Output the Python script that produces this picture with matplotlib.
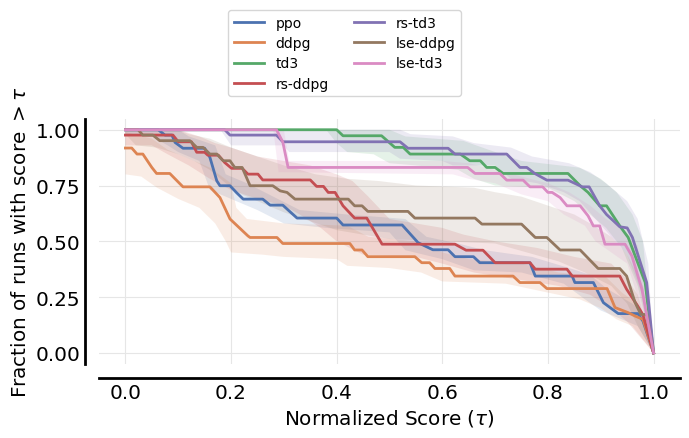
import numpy as np
import matplotlib
matplotlib.use('Agg')
import matplotlib.pyplot as plt
import seaborn as sns

# algorithms, in legend order
algos = ['ppo', 'ddpg', 'td3', 'rs-ddpg', 'rs-td3', 'lse-ddpg', 'lse-td3']

# performance profile curves (tau vertices, fraction)
ppo_t = [0, 0.062, 0.075, 0.088, 0.094, 0.109, 0.15, 0.16, 0.173, 0.179, 0.198, 0.21, 0.223, 0.26, 0.274,
         0.298, 0.31, 0.325, 0.40, 0.412, 0.524, 0.554, 0.582, 0.611, 0.624, 0.659, 0.671, 0.766, 0.776,
         0.846, 0.851, 0.886, 0.905, 0.933, 0.97, 0.98, 1.0]
ppo_v = [1.0, 1.0, 0.976, 0.976, 0.943, 0.917, 0.917, 0.876, 0.771, 0.749, 0.749, 0.719, 0.689, 0.689, 0.662,
         0.662, 0.636, 0.604, 0.604, 0.573, 0.573, 0.494, 0.462, 0.462, 0.431, 0.431, 0.404, 0.404, 0.344,
         0.344, 0.315, 0.315, 0.225, 0.176, 0.176, 0.142, 0.0]

ddpg_t = [0, 0.012, 0.022, 0.033, 0.05, 0.059, 0.084, 0.109, 0.16, 0.179, 0.198, 0.232, 0.236, 0.287, 0.298,
          0.425, 0.434, 0.448, 0.459, 0.548, 0.561, 0.576, 0.586, 0.614, 0.624, 0.734, 0.747, 0.785, 0.798,
          0.912, 0.927, 0.952, 0.965, 0.98, 1.0]
ddpg_v = [0.918, 0.918, 0.891, 0.891, 0.831, 0.804, 0.804, 0.744, 0.744, 0.696, 0.6, 0.524, 0.517, 0.517, 0.49,
          0.49, 0.461, 0.461, 0.431, 0.431, 0.404, 0.404, 0.378, 0.378, 0.344, 0.344, 0.315, 0.315, 0.288,
          0.288, 0.203, 0.18, 0.165, 0.15, 0.0]

td3_t = [0, 0.40, 0.412, 0.485, 0.51, 0.526, 0.539, 0.634, 0.652, 0.672, 0.684, 0.70, 0.715, 0.838, 0.861,
         0.876, 0.898, 0.911, 0.936, 0.952, 0.984, 1.0]
td3_v = [1.0, 1.0, 0.973, 0.973, 0.921, 0.921, 0.891, 0.891, 0.861, 0.861, 0.831, 0.831, 0.804, 0.804, 0.749,
         0.719, 0.659, 0.659, 0.569, 0.517, 0.316, 0.0]

rsddpg_t = [0, 0.09, 0.1, 0.125, 0.135, 0.15, 0.156, 0.176, 0.188, 0.201, 0.221, 0.232, 0.251, 0.26, 0.35,
            0.362, 0.375, 0.384, 0.397, 0.412, 0.434, 0.457, 0.486, 0.624, 0.645, 0.677, 0.70, 0.766, 0.776,
            0.836, 0.846, 0.936, 0.949, 0.97, 0.98, 1.0]
rsddpg_v = [0.976, 0.976, 0.946, 0.946, 0.899, 0.899, 0.886, 0.886, 0.853, 0.827, 0.827, 0.801, 0.801, 0.775,
            0.775, 0.746, 0.746, 0.719, 0.719, 0.659, 0.604, 0.604, 0.487, 0.487, 0.46, 0.46, 0.404, 0.404,
            0.375, 0.375, 0.344, 0.344, 0.285, 0.21, 0.17, 0.0]

rstd3_t = [0, 0.188, 0.198, 0.286, 0.298, 0.52, 0.535, 0.611, 0.624, 0.722, 0.747, 0.76, 0.775, 0.798, 0.838,
           0.865, 0.878, 0.898, 0.911, 0.936, 0.95, 0.96, 0.987, 1.0]
rstd3_v = [1.0, 1.0, 0.976, 0.976, 0.946, 0.946, 0.917, 0.917, 0.891, 0.891, 0.831, 0.831, 0.804, 0.774, 0.774,
           0.744, 0.744, 0.659, 0.62, 0.565, 0.56, 0.517, 0.315, 0.0]

lseddpg_t = [0, 0.024, 0.033, 0.052, 0.065, 0.122, 0.135, 0.147, 0.16, 0.173, 0.185, 0.198, 0.207, 0.221,
             0.236, 0.279, 0.293, 0.306, 0.321, 0.422, 0.434, 0.448, 0.459, 0.535, 0.548, 0.662, 0.675, 0.75,
             0.776, 0.798, 0.823, 0.861, 0.895, 0.936, 0.949, 0.965, 0.976, 0.987, 1.0]
lseddpg_v = [1.0, 1.0, 0.976, 0.976, 0.951, 0.951, 0.921, 0.921, 0.891, 0.891, 0.861, 0.861, 0.831, 0.831,
             0.749, 0.749, 0.726, 0.719, 0.689, 0.689, 0.659, 0.659, 0.634, 0.634, 0.604, 0.604, 0.577, 0.577,
             0.517, 0.517, 0.461, 0.461, 0.378, 0.378, 0.344, 0.225, 0.172, 0.172, 0.0]

lsetd3_t = [0, 0.286, 0.298, 0.308, 0.648, 0.662, 0.709, 0.722, 0.753, 0.766, 0.79, 0.80, 0.808, 0.823, 0.836,
            0.861, 0.876, 0.886, 0.898, 0.908, 0.946, 0.959, 0.978, 1.0]
lsetd3_v = [1.0, 1.0, 0.945, 0.831, 0.831, 0.804, 0.804, 0.774, 0.774, 0.744, 0.744, 0.719, 0.719, 0.696,
            0.659, 0.659, 0.614, 0.569, 0.569, 0.487, 0.487, 0.434, 0.285, 0.0]

# confidence bands: upper edge and lower edge (tau, fraction)
ppo_hi = [(0, 1.0), (0.1, 1.0), (0.12, 0.97), (0.17, 0.93), (0.19, 0.8), (0.23, 0.76), (0.28, 0.70), (0.33, 0.64),
          (0.42, 0.62), (0.53, 0.60), (0.57, 0.52), (0.63, 0.49), (0.68, 0.46), (0.77, 0.43), (0.84, 0.38),
          (0.88, 0.35), (0.91, 0.29), (0.96, 0.22), (0.985, 0.17), (1.0, 0.0)]
ppo_lo = [(0, 0.98), (0.05, 0.97), (0.08, 0.93), (0.1, 0.9), (0.14, 0.86), (0.16, 0.73), (0.2, 0.69), (0.25, 0.64),
          (0.3, 0.58), (0.38, 0.56), (0.5, 0.54), (0.53, 0.46), (0.6, 0.42), (0.66, 0.37), (0.75, 0.36),
          (0.83, 0.31), (0.87, 0.24), (0.9, 0.19), (0.94, 0.15), (0.97, 0.12), (1.0, 0.0)]

ddpg_hi = [(0, 0.99), (0.05, 0.96), (0.08, 0.91), (0.12, 0.87), (0.16, 0.83), (0.2, 0.76), (0.21, 0.65),
           (0.23, 0.60), (0.3, 0.58), (0.42, 0.57), (0.46, 0.52), (0.55, 0.50), (0.6, 0.45), (0.65, 0.42),
           (0.75, 0.40), (0.82, 0.36), (0.91, 0.34), (0.94, 0.27), (0.97, 0.22), (1.0, 0.0)]
ddpg_lo = [(0, 0.80), (0.03, 0.79), (0.06, 0.74), (0.1, 0.69), (0.14, 0.65), (0.17, 0.58), (0.19, 0.50),
           (0.2, 0.45), (0.26, 0.44), (0.3, 0.43), (0.4, 0.42), (0.42, 0.39), (0.5, 0.38), (0.56, 0.36),
           (0.6, 0.32), (0.72, 0.31), (0.8, 0.27), (0.86, 0.24), (0.9, 0.2), (0.93, 0.15), (0.96, 0.12), (1.0, 0.0)]

td3_hi = [(0, 1.0), (0.5, 1.0), (0.53, 0.97), (0.64, 0.95), (0.7, 0.90), (0.75, 0.86), (0.86, 0.83), (0.9, 0.78),
          (0.93, 0.72), (0.96, 0.62), (0.98, 0.5), (1.0, 0.0)]
td3_lo = [(0, 1.0), (0.38, 1.0), (0.4, 0.94), (0.42, 0.90), (0.47, 0.89), (0.5, 0.85), (0.55, 0.84), (0.63, 0.82),
          (0.66, 0.78), (0.7, 0.75), (0.8, 0.74), (0.85, 0.68), (0.88, 0.62), (0.91, 0.56), (0.94, 0.47),
          (0.97, 0.30), (1.0, 0.0)]

rsddpg_hi = [(0, 1.0), (0.1, 1.0), (0.14, 0.97), (0.17, 0.94), (0.2, 0.92), (0.25, 0.88), (0.3, 0.86), (0.35, 0.84),
             (0.4, 0.8), (0.43, 0.77), (0.46, 0.70), (0.5, 0.60), (0.55, 0.58), (0.6, 0.56), (0.64, 0.53),
             (0.7, 0.50), (0.78, 0.47), (0.85, 0.43), (0.92, 0.40), (0.95, 0.33), (0.97, 0.26), (1.0, 0.0)]
rsddpg_lo = [(0, 0.93), (0.05, 0.93), (0.08, 0.89), (0.12, 0.84), (0.16, 0.78), (0.2, 0.73), (0.25, 0.69),
             (0.3, 0.66), (0.33, 0.62), (0.37, 0.56), (0.4, 0.50), (0.45, 0.44), (0.55, 0.43), (0.6, 0.40),
             (0.66, 0.36), (0.74, 0.33), (0.82, 0.30), (0.88, 0.26), (0.92, 0.2), (0.95, 0.14), (1.0, 0.0)]

rstd3_hi = [(0, 1.0), (0.52, 1.0), (0.54, 0.98), (0.62, 0.97), (0.66, 0.94), (0.73, 0.92), (0.77, 0.88),
            (0.84, 0.85), (0.88, 0.81), (0.91, 0.76), (0.95, 0.68), (0.97, 0.6), (0.99, 0.4), (1.0, 0.0)]
rstd3_lo = [(0, 1.0), (0.18, 1.0), (0.2, 0.93), (0.3, 0.93), (0.31, 0.90), (0.5, 0.90), (0.52, 0.87), (0.6, 0.86),
            (0.62, 0.84), (0.7, 0.84), (0.73, 0.78), (0.78, 0.76), (0.83, 0.72), (0.86, 0.68), (0.89, 0.60),
            (0.92, 0.52), (0.95, 0.44), (0.98, 0.25), (1.0, 0.0)]

lseddpg_hi = [(0, 1.0), (0.1, 1.0), (0.12, 0.98), (0.16, 0.96), (0.2, 0.92), (0.25, 0.88), (0.3, 0.84),
              (0.36, 0.80), (0.42, 0.78), (0.48, 0.77), (0.55, 0.75), (0.66, 0.74), (0.7, 0.72), (0.75, 0.70),
              (0.8, 0.66), (0.85, 0.62), (0.88, 0.58), (0.92, 0.52), (0.95, 0.44), (0.98, 0.3), (1.0, 0.0)]
lseddpg_lo = [(0, 0.98), (0.02, 0.93), (0.06, 0.92), (0.1, 0.89), (0.13, 0.86), (0.16, 0.82), (0.19, 0.76),
              (0.22, 0.71), (0.26, 0.67), (0.3, 0.63), (0.35, 0.59), (0.4, 0.55), (0.45, 0.53), (0.5, 0.51),
              (0.6, 0.50), (0.7, 0.49), (0.76, 0.45), (0.82, 0.41), (0.87, 0.36), (0.92, 0.30), (0.95, 0.22),
              (0.97, 0.12), (1.0, 0.0)]

lsetd3_hi = [(0, 1.0), (0.3, 1.0), (0.31, 0.86), (0.6, 0.86), (0.65, 0.85), (0.7, 0.82), (0.75, 0.79),
             (0.8, 0.76), (0.84, 0.72), (0.88, 0.66), (0.91, 0.6), (0.94, 0.56), (0.97, 0.48), (1.0, 0.0)]
lsetd3_lo = [(0, 1.0), (0.28, 1.0), (0.29, 0.81), (0.62, 0.80), (0.65, 0.78), (0.7, 0.76), (0.75, 0.71),
             (0.8, 0.68), (0.83, 0.62), (0.87, 0.57), (0.89, 0.50), (0.92, 0.45), (0.95, 0.40), (0.97, 0.25),
             (1.0, 0.0)]

curves = {
    'ppo': (ppo_t, ppo_v, ppo_lo, ppo_hi),
    'ddpg': (ddpg_t, ddpg_v, ddpg_lo, ddpg_hi),
    'td3': (td3_t, td3_v, td3_lo, td3_hi),
    'rs-ddpg': (rsddpg_t, rsddpg_v, rsddpg_lo, rsddpg_hi),
    'rs-td3': (rstd3_t, rstd3_v, rstd3_lo, rstd3_hi),
    'lse-ddpg': (lseddpg_t, lseddpg_v, lseddpg_lo, lseddpg_hi),
    'lse-td3': (lsetd3_t, lsetd3_v, lsetd3_lo, lsetd3_hi),
}

colors = dict(zip(algos, sns.color_palette('deep', 7)))

fig = plt.figure(figsize=(6.89, 4.39), dpi=100)
ax = fig.add_axes([0.1437, 0.1686, 0.8432, 0.559])

for name in algos:
    t, v, lo, hi = curves[name]
    hi = np.array(hi)
    lo = np.array(lo)
    bx = np.r_[hi[:, 0], lo[::-1, 0]]
    by = np.r_[hi[:, 1], lo[::-1, 1]]
    ax.fill(bx, by, color=colors[name], alpha=0.15, linewidth=0)
    ax.plot(t, v, color=colors[name], linewidth=2, label=name)

ax.set_xlim(-0.05, 1.05)
ax.set_ylim(-0.05, 1.05)
ax.set_xticks([0.0, 0.2, 0.4, 0.6, 0.8, 1.0])
ax.set_yticks([0.0, 0.25, 0.5, 0.75, 1.0])
ax.set_yticklabels(['0.00', '0.25', '0.50', '0.75', '1.00'])

ax.grid(True, color='#e6e6e6', linewidth=0.8)
ax.set_axisbelow(True)
for s in ['top', 'right']:
    ax.spines[s].set_visible(False)
for s in ['left', 'bottom']:
    ax.spines[s].set_linewidth(2)
    ax.spines[s].set_color('black')
    ax.spines[s].set_position(('outward', 10))
ax.tick_params(length=0, labelsize='x-large')

ax.set_xlabel(r'Normalized Score ($\tau$)', fontsize='x-large')
ax.set_ylabel(r'Fraction of runs with score $>\tau$', fontsize='x-large')

fig.legend(loc='upper center', bbox_to_anchor=(0.5, 0.99), ncol=2, fontsize=10,
           labelspacing=0.45, columnspacing=1.8, handlelength=2.2)

plt.savefig('out.png', dpi=100)
